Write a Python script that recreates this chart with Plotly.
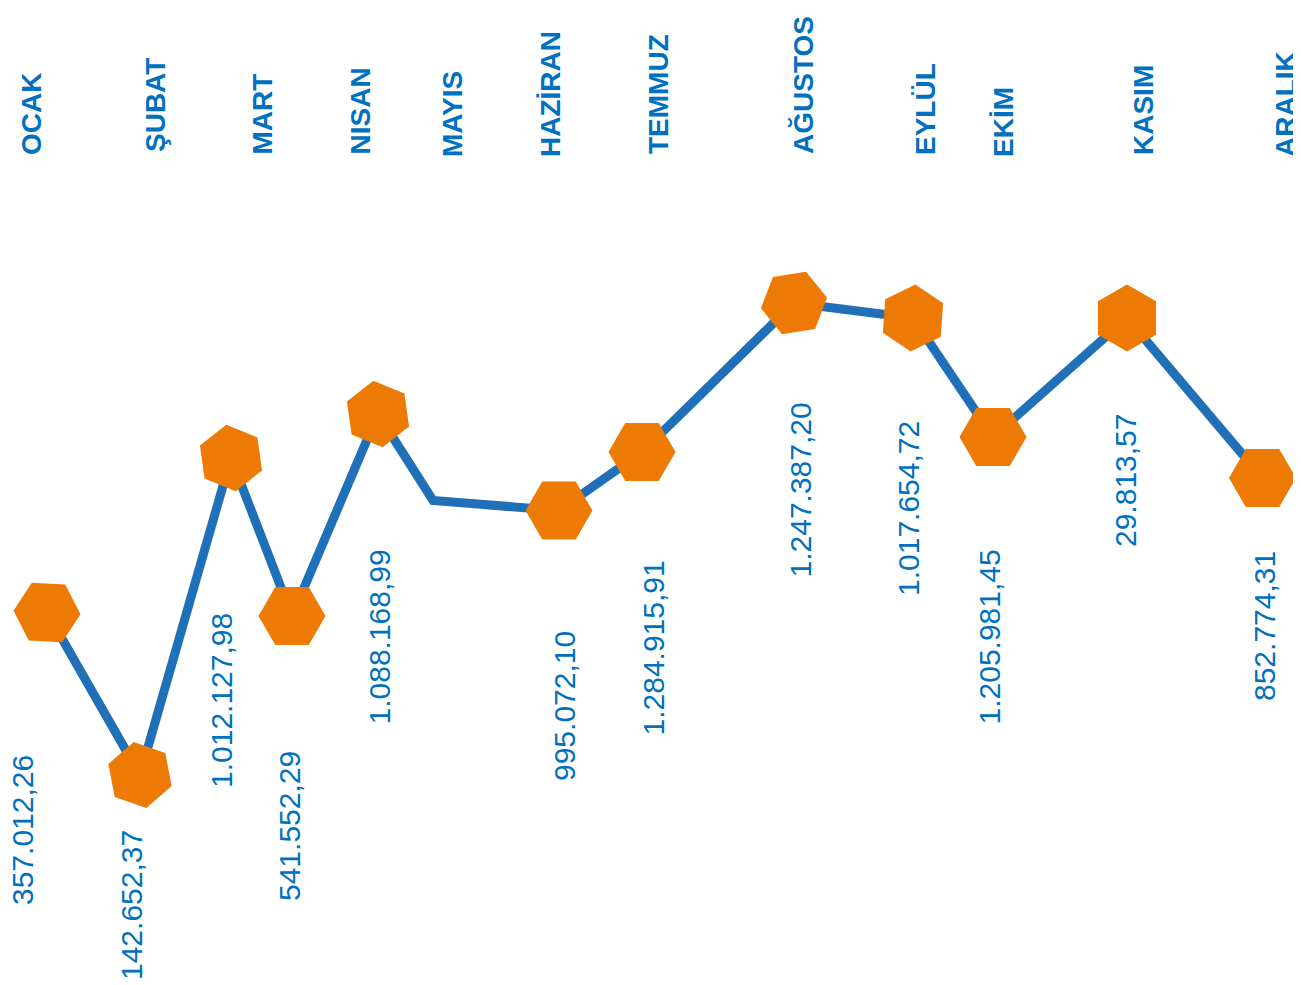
import plotly.graph_objects as go

# Months along the top
months = ["OCAK", "ŞUBAT", "MART", "NISAN", "MAYIS", "HAZİRAN",
          "TEMMUZ", "AĞUSTOS", "EYLÜL", "EKİM", "KASIM", "ARALIK"]
month_x = [0.31, 1.55, 2.62, 3.60, 4.52, 5.50, 6.58, 8.03, 9.25, 10.03, 11.43, 12.85]
month_y = [8.28, 8.31, 8.28, 8.28, 8.26, 8.26, 8.29, 8.29, 8.28, 8.26, 8.28, 8.26]

# Line path (the 6th point is a bend without a marker)
line_x = [0.47, 1.40, 2.31, 2.92, 3.78, 4.33, 5.59, 6.42, 7.94, 9.13, 9.93, 11.27, 12.625]
line_y = [3.725, 2.10, 5.27, 3.69, 5.71, 4.845, 4.745, 5.33, 6.82, 6.67, 5.48, 6.67, 5.07]
has_marker = [1, 1, 1, 1, 1, 0, 1, 1, 1, 1, 1, 1, 1]
marker_angle = [3, 19, 22, 0, 22, 0, 0, 0, -9, 34, 0, 30, 0]

# Value labels
values = ["357.012,26", "142.652,37", "1.012.127,98", "541.552,29", "1.088.168,99",
          "995.072,10", "1.284.915,91", "1.247.387,20", "1.017.654,72",
          "1.205.981,45", "29.813,57", "852.774,31"]
value_x = [0.22, 1.31, 2.215, 2.89, 3.79, 5.64, 6.53, 8.00, 9.085, 9.89, 11.255, 12.64]
value_y = [0.78, 0.03, 1.95, 0.82, 2.58, 2.02, 2.47, 4.05, 3.87, 2.58, 4.36, 2.82]

LINE_BLUE = "#1f70b8"
ORANGE = "#ec7a05"
TEXT_BLUE = "#0070c0"

fig = go.Figure()

fig.add_trace(go.Scatter(
    x=line_x, y=line_y,
    mode="lines",
    line=dict(color=LINE_BLUE, width=9),
    hoverinfo="none",
    showlegend=False
))

mx = [x for x, m in zip(line_x, has_marker) if m]
my = [y for y, m in zip(line_y, has_marker) if m]
ma = [a for a, m in zip(marker_angle, has_marker) if m]
fig.add_trace(go.Scatter(
    x=mx, y=my,
    mode="markers",
    marker=dict(symbol="hexagon2", size=67, color=ORANGE, angle=ma,
                line=dict(width=0)),
    hoverinfo="none",
    showlegend=False
))

annotations = []
for name, x, y in zip(months, month_x, month_y):
    annotations.append(dict(
        x=x, y=y, text=f"<b>{name}</b>", showarrow=False, textangle=-90,
        xanchor="center", yanchor="bottom",
        font=dict(family="Liberation Sans, Arial", size=28, color=TEXT_BLUE)
    ))
for label, x, y in zip(values, value_x, value_y):
    annotations.append(dict(
        x=x, y=y, text=label, showarrow=False, textangle=-90,
        xanchor="center", yanchor="bottom",
        font=dict(family="Liberation Sans, Arial", size=30, color=TEXT_BLUE)
    ))

# ranges offset by the page's 8px body margin
fig.update_layout(
    width=1301, height=985,
    margin=dict(l=0, r=0, t=0, b=0),
    paper_bgcolor="white", plot_bgcolor="white",
    xaxis=dict(range=[0.08, 13.09], visible=False),
    yaxis=dict(range=[-0.08, 9.77], visible=False),
    annotations=annotations,
    showlegend=False
)

fig.write_html("out.html")
